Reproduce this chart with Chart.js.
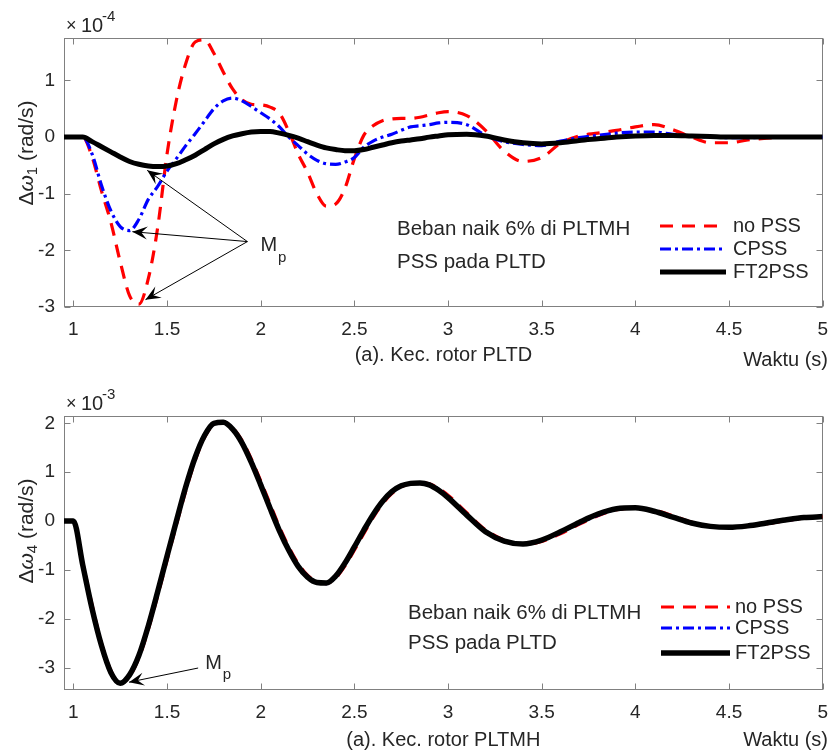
<!DOCTYPE html>
<html>
<head>
<meta charset="utf-8">
<script src="https://cdn.jsdelivr.net/npm/chart.js@4.4.1/dist/chart.umd.min.js"></script>
<style>
  html, body { margin: 0; padding: 0; background: #fff; }
  #wrap { position: relative; width: 839px; height: 755px; }
  canvas { position: absolute; left: 0; }
</style>
</head>
<body>
<div id="wrap">
  <canvas id="top" width="839" height="372" style="top:0"></canvas>
  <canvas id="bottom" width="839" height="377" style="top:378px"></canvas>
</div>
<script>
// sample times (s)
const time = [
  0.95, 1.0, 1.05, 1.1, 1.15, 1.2, 1.25, 1.3, 1.35, 1.4, 1.45, 1.5, 1.55, 1.6,
  1.65, 1.7, 1.75, 1.8, 1.85, 1.9, 1.95, 2.0, 2.05, 2.1, 2.15, 2.2, 2.25, 2.3,
  2.35, 2.4, 2.45, 2.5, 2.55, 2.6, 2.65, 2.7, 2.75, 2.8, 2.85, 2.9, 2.95, 3.0,
  3.1, 3.2, 3.3, 3.4, 3.5, 3.6, 3.7, 3.8, 3.9, 4.0, 4.1, 4.2, 4.3, 4.4, 4.5,
  4.6, 4.7, 4.8, 4.9, 5.0,
];

const seriesNames = ["no PSS", "CPSS", "FT2PSS"];
const xTicks = [1, 1.5, 2, 2.5, 3, 3.5, 4, 4.5, 5];

// PLTD rotor speed, x 1e-4 rad/s
const pltdNoPss = [
  0, 0, 0, -0.35, -0.95, -1.5, -2.2, -2.8, -2.95, -2.5, -1.6, -0.3, 0.65, 1.3,
  1.68, 1.72, 1.48, 1.15, 0.85, 0.66, 0.58, 0.57, 0.53, 0.42, 0.1, -0.3, -0.62, -1.0,
  -1.22, -1.18, -0.9, -0.38, 0.03, 0.2, 0.29, 0.32, 0.33, 0.33, 0.35, 0.39, 0.43, 0.45,
  0.38, 0.12, -0.25, -0.43, -0.36, -0.11, 0.02, 0.07, 0.12, 0.18, 0.22, 0.13, 0.0, -0.1, -0.1,
  -0.05, -0.02, 0, 0, 0,
];
const pltdCpss = [
  0, 0, 0, -0.3, -0.85, -1.3, -1.58, -1.65, -1.45, -1.1, -0.87, -0.6, -0.38, -0.15,
  0.06, 0.28, 0.5, 0.64, 0.69, 0.64, 0.54, 0.43, 0.32, 0.18, 0.0, -0.15, -0.3, -0.41,
  -0.47, -0.48, -0.44, -0.36, -0.18, -0.07, 0.0, 0.05, 0.12, 0.18, 0.2, 0.22, 0.25, 0.26,
  0.22, 0.03, -0.08, -0.13, -0.15, -0.07, -0.01, 0.03, 0.07, 0.09, 0.09, 0.05, 0.02, 0.0, -0.01,
  -0.01, 0, 0, 0, 0,
];
const pltdFt2pss = [
  0, 0, 0, -0.08, -0.17, -0.26, -0.35, -0.43, -0.48, -0.51, -0.52, -0.51, -0.47, -0.4,
  -0.32, -0.22, -0.12, -0.04, 0.02, 0.06, 0.09, 0.1, 0.1, 0.07, 0.03, -0.02, -0.08, -0.14,
  -0.19, -0.22, -0.24, -0.24, -0.22, -0.18, -0.14, -0.1, -0.07, -0.05, -0.03, 0.0, 0.02, 0.04,
  0.05, 0.02, -0.05, -0.1, -0.12, -0.1, -0.06, -0.03, 0.0, 0.02, 0.03, 0.03, 0.02, 0.01, 0.0,
  0, 0, 0, 0, 0,
];
const pltdYTicks = [-3, -2, -1, 0, 1];

// PLTMH rotor speed, x 1e-3 rad/s
const pltmhNoPss = [
  0, 0, -0.85, -1.72, -2.5, -3.06, -3.32, -3.18, -2.8, -2.22, -1.53, -0.8, -0.08, 0.62,
  1.24, 1.71, 1.98, 2.03, 1.91, 1.65, 1.27, 0.82, 0.35, -0.12, -0.53, -0.87, -1.11, -1.24,
  -1.28, -1.17, -0.92, -0.6, -0.26, 0.07, 0.35, 0.56, 0.7, 0.77, 0.79, 0.76, 0.67, 0.53,
  0.17, -0.18, -0.39, -0.48, -0.42, -0.26, -0.07, 0.11, 0.23, 0.27, 0.22, 0.11, -0.02, -0.1, -0.13,
  -0.11, -0.06, 0.0, 0.06, 0.09,
];
const pltmhCpss = [
  0, 0, -0.88, -1.76, -2.52, -3.08, -3.32, -3.16, -2.78, -2.18, -1.49, -0.76, -0.04, 0.66,
  1.27, 1.73, 1.99, 2.03, 1.9, 1.62, 1.24, 0.78, 0.3, -0.16, -0.57, -0.9, -1.13, -1.25,
  -1.28, -1.15, -0.89, -0.56, -0.22, 0.1, 0.38, 0.58, 0.71, 0.77, 0.78, 0.75, 0.65, 0.5,
  0.14, -0.2, -0.4, -0.47, -0.4, -0.24, -0.05, 0.12, 0.24, 0.27, 0.21, 0.09, -0.03, -0.11, -0.13,
  -0.1, -0.05, 0.01, 0.06, 0.09,
];
const pltmhFt2pss = [
  0, 0, -0.9, -1.8, -2.55, -3.1, -3.32, -3.15, -2.75, -2.15, -1.45, -0.72, 0.0, 0.7,
  1.3, 1.75, 2.0, 2.02, 1.88, 1.6, 1.2, 0.74, 0.26, -0.2, -0.6, -0.93, -1.15, -1.26,
  -1.27, -1.13, -0.86, -0.53, -0.19, 0.13, 0.4, 0.6, 0.72, 0.77, 0.78, 0.74, 0.63, 0.48,
  0.12, -0.22, -0.41, -0.47, -0.39, -0.22, -0.03, 0.14, 0.25, 0.27, 0.2, 0.08, -0.04, -0.11, -0.13,
  -0.1, -0.04, 0.02, 0.07, 0.09,
];
const pltmhYTicks = [-3, -2, -1, 0, 1, 2];

const FONT = "'Liberation Sans', Arial, sans-serif";
const TXT = "#262626";

function qs(selector, parent = document) {
  return parent.querySelector(selector);
}

const pts = (vals) => time.map((t, i) => ({ x: t, y: vals[i] }));

function arrowHead(ctx, x0, y0, x1, y1) {
  const a = Math.atan2(y1 - y0, x1 - x0);
  const L = 15, W = 6.5;
  const bx = x1 - L * Math.cos(a), by = y1 - L * Math.sin(a);
  const nx = x1 - L * 0.6 * Math.cos(a), ny = y1 - L * 0.6 * Math.sin(a);
  ctx.beginPath();
  ctx.moveTo(x1, y1);
  ctx.lineTo(bx - W * Math.sin(a), by + W * Math.cos(a));
  ctx.lineTo(nx, ny);
  ctx.lineTo(bx + W * Math.sin(a), by - W * Math.cos(a));
  ctx.closePath();
  ctx.fill();
}

const decoPlugin = {
  id: "deco",
  beforeDatasetsDraw(chart) {
    const { ctx, chartArea: a, scales: { x, y } } = chart;
    const L = Math.round(a.left) + 0.5, R = Math.round(a.right) - 0.5;
    const T = Math.round(a.top) + 0.5, B = Math.round(a.bottom) - 0.5;
    ctx.save();
    ctx.strokeStyle = "#808080";
    ctx.lineWidth = 1;
    ctx.strokeRect(L, T, R - L, B - T);
    ctx.beginPath();
    x.ticks.forEach((t) => {
      const px = Math.round(x.getPixelForValue(t.value)) + 0.5;
      ctx.moveTo(px, B); ctx.lineTo(px, B - 6);
      ctx.moveTo(px, T); ctx.lineTo(px, T + 6);
    });
    y.ticks.forEach((t) => {
      const py = Math.round(y.getPixelForValue(t.value)) + 0.5;
      ctx.moveTo(L, py); ctx.lineTo(L + 6, py);
      ctx.moveTo(R, py); ctx.lineTo(R - 6, py);
    });
    ctx.stroke();
    ctx.restore();
  },
  afterDraw(chart, args, o) {
    const { ctx, chartArea: a, scales: { x, y } } = chart;
    ctx.save();
    ctx.fillStyle = TXT;

    // exponent
    ctx.textAlign = "left";
    ctx.textBaseline = "alphabetic";
    ctx.font = `18px ${FONT}`;
    ctx.fillText("\u00d7", 66, a.top - 7);
    ctx.font = `20px ${FONT}`;
    ctx.fillText("10", 81, a.top - 6);
    ctx.font = `15px ${FONT}`;
    ctx.fillText(o.exp, 102, a.top - 17);

    // y label, rotated
    ctx.save();
    ctx.translate(27, o.ylabY);
    ctx.rotate(-Math.PI / 2);
    ctx.textBaseline = "middle";
    const parts = [
      ["\u0394", `21px ${FONT}`, 0],
      ["\u03c9", `italic 21px ${FONT}`, 0],
      [o.sub, `15px ${FONT}`, 6],
      [" (rad/s)", `21px ${FONT}`, 0],
    ];
    let total = 0;
    parts.forEach((p) => { ctx.font = p[1]; total += ctx.measureText(p[0]).width; });
    let cx = -total / 2;
    parts.forEach((p) => {
      ctx.font = p[1];
      ctx.fillText(p[0], cx, p[2]);
      cx += ctx.measureText(p[0]).width;
    });
    ctx.restore();

    // x labels
    ctx.font = `20px ${FONT}`;
    ctx.textBaseline = "middle";
    ctx.textAlign = "center";
    ctx.fillText(o.xlab, (a.left + a.right) / 2, o.xlabY);
    ctx.textAlign = "right";
    ctx.fillText("Waktu (s)", 828, o.waktuY);

    // notes
    ctx.textAlign = "left";
    ctx.font = `20.5px ${FONT}`;
    o.notes.forEach((n) => ctx.fillText(n[0], n[1], n[2]));

    // legend
    ctx.font = `20px ${FONT}`;
    chart.data.datasets.forEach((ds, i) => {
      const ly = o.leg.ys[i];
      ctx.save();
      ctx.strokeStyle = ds.borderColor;
      ctx.lineWidth = ds.borderWidth;
      ctx.setLineDash(ds.borderDash || []);
      ctx.beginPath();
      ctx.moveTo(o.leg.x0, ly);
      ctx.lineTo(o.leg.x1, ly);
      ctx.stroke();
      ctx.restore();
      ctx.fillText(ds.label, o.leg.tx, ly);
    });

    // M_p annotation
    const ox = x.getPixelForValue(o.from[0]), oy = y.getPixelForValue(o.from[1]);
    ctx.strokeStyle = "#000";
    ctx.fillStyle = "#000";
    ctx.lineWidth = 1;
    o.to.forEach((t) => {
      const tx = x.getPixelForValue(t[0]), ty = y.getPixelForValue(t[1]);
      ctx.beginPath();
      ctx.moveTo(ox, oy);
      ctx.lineTo(tx, ty);
      ctx.stroke();
      arrowHead(ctx, ox, oy, tx, ty);
    });
    ctx.fillStyle = TXT;
    ctx.font = `20px ${FONT}`;
    const mx = ox + o.mp[0], my = oy + o.mp[1];
    ctx.fillText("M", mx, my);
    const mw = ctx.measureText("M").width;
    ctx.font = `15px ${FONT}`;
    ctx.fillText("p", mx + mw + 1, my + 12);

    ctx.restore();
  },
};

function makeChart(id, vals, yMin, yMax, yTicks, deco) {
  const tickFont = { family: FONT, size: 19 };
  new Chart(qs("#" + id), {
    type: "line",
    data: {
      datasets: [
        { label: seriesNames[0], data: pts(vals[0]), borderColor: "#ff0000", borderWidth: 3.2, borderDash: [13, 9], order: 2 },
        { label: seriesNames[1], data: pts(vals[1]), borderColor: "#0000ff", borderWidth: 3.2, borderDash: [11, 4, 3, 4], order: 1 },
        { label: seriesNames[2], data: pts(vals[2]), borderColor: "#000000", borderWidth: deco.blackWidth, order: 0 },
      ],
    },
    options: {
      responsive: false,
      animation: false,
      layout: { padding: { top: 38, right: 6, left: 0, bottom: 0 } },
      elements: {
        point: { radius: 0 },
        line: { cubicInterpolationMode: "monotone", borderCapStyle: "butt", borderJoinStyle: "round" },
      },
      plugins: { legend: { display: false }, tooltip: { enabled: false }, deco: deco },
      scales: {
        x: {
          type: "linear",
          min: 0.95,
          max: 5,
          afterBuildTicks: (s) => { s.ticks = xTicks.map((v) => ({ value: v })); },
          afterFit: (s) => { s.height = 65; },
          grid: { display: false, drawTicks: false },
          border: { display: false },
          ticks: { font: tickFont, color: TXT, padding: 11, maxRotation: 0, callback: (v) => String(v) },
        },
        y: {
          type: "linear",
          min: yMin,
          max: yMax,
          afterBuildTicks: (s) => { s.ticks = yTicks.map((v) => ({ value: v })); },
          afterFit: (s) => { s.width = 64; },
          grid: { display: false, drawTicks: false },
          border: { display: false },
          ticks: { font: tickFont, color: TXT, padding: 9, callback: (v) => String(v) },
        },
      },
    },
    plugins: [decoPlugin],
  });
}

makeChart("top", [pltdNoPss, pltdCpss, pltdFt2pss], -3, 1.75, pltdYTicks, {
  exp: "-4", sub: "1", ylabY: 153, blackWidth: 5,
  xlab: "(a). Kec. rotor PLTD", xlabY: 355, waktuY: 360,
  notes: [["Beban naik 6% di PLTMH", 397, 229], ["PSS pada PLTD", 397, 262]],
  leg: { x0: 660, x1: 726, tx: 733, ys: [226, 249, 272] },
  from: [1.929, -1.845],
  to: [[1.394, -0.587], [1.315, -1.67], [1.385, -2.87]],
  mp: [13, 4],
});

makeChart("bottom", [pltmhNoPss, pltmhCpss, pltmhFt2pss], -3.46, 2.15, pltmhYTicks, {
  exp: "-3", sub: "4", ylabY: 153, blackWidth: 5.5,
  xlab: "(a). Kec. rotor PLTMH", xlabY: 362, waktuY: 362,
  notes: [["Beban naik 6% di PLTMH", 408, 235], ["PSS pada PLTD", 408, 265]],
  leg: { x0: 661, x1: 730, tx: 735, ys: [229, 250, 275] },
  from: [1.666, -3.01],
  to: [[1.297, -3.3]],
  mp: [7, -5],
});
</script>
</body>
</html>
